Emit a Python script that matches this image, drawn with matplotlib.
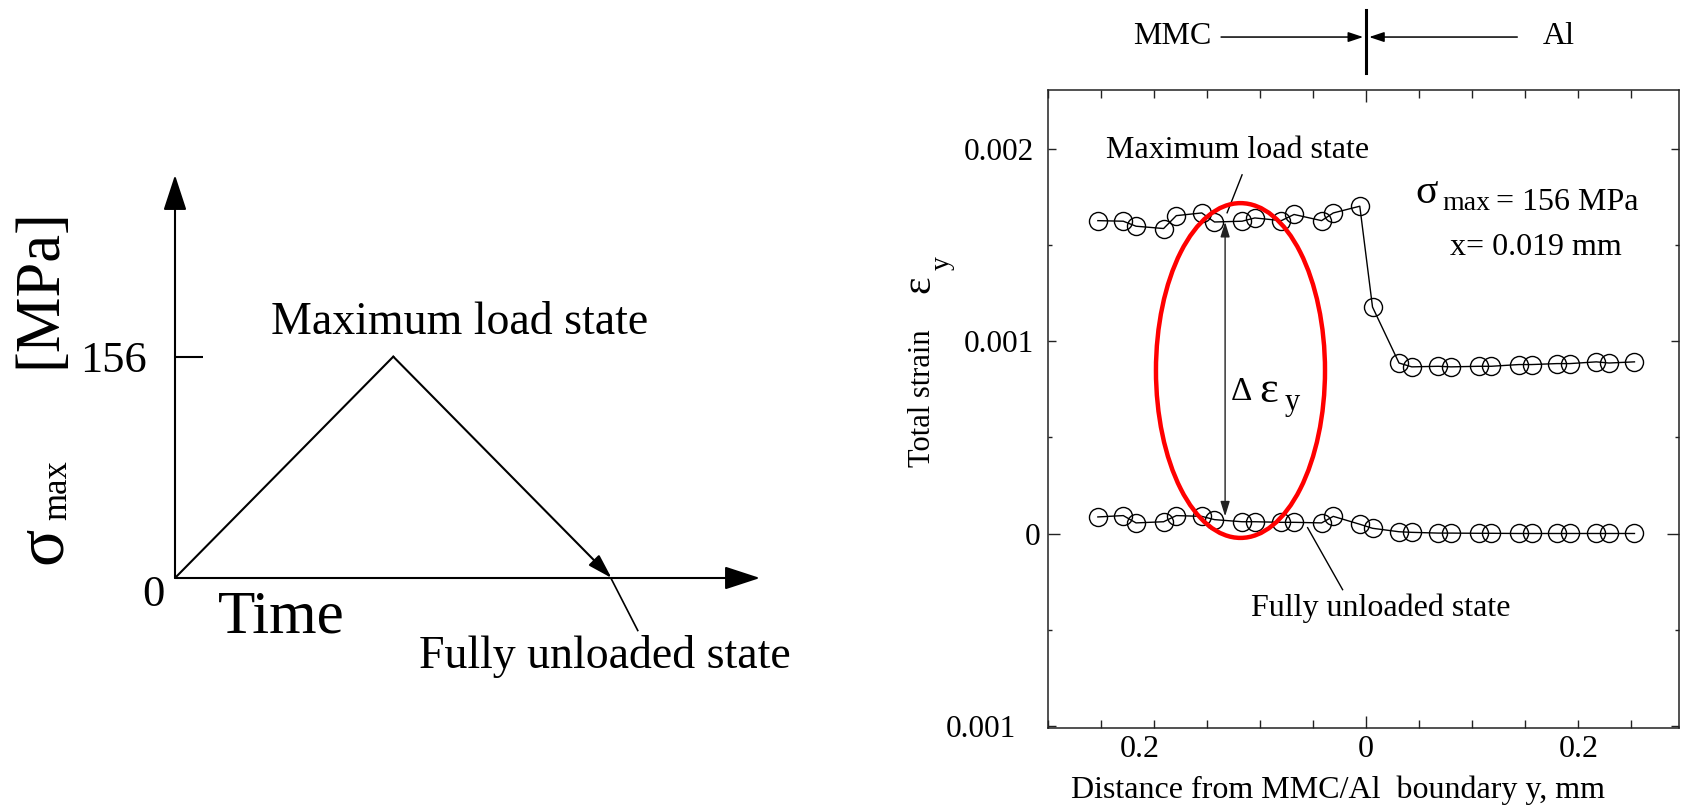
import numpy as np
import matplotlib.pyplot as plt
from matplotlib.patches import Ellipse
from matplotlib.ticker import FixedLocator, FuncFormatter
from matplotlib.transforms import ScaledTranslation, blended_transform_factory

plt.rcParams['font.family'] = ['Liberation Serif', 'DejaVu Serif']

#+++++++++++++++ 1. Data
# strain profile across the MMC/Al boundary, x = 0.019 mm
y_pos = np.array([-0.253, -0.229, -0.217, -0.191, -0.179, -0.155, -0.143,
                  -0.117, -0.105, -0.080, -0.068, -0.042, -0.031, -0.006,
                  0.006, 0.031, 0.043, 0.068, 0.080, 0.106, 0.118,
                  0.144, 0.156, 0.180, 0.192, 0.217, 0.229, 0.253])
strain_max = np.array([1.627, 1.624, 1.598, 1.586, 1.653, 1.667, 1.620,
                       1.624, 1.641, 1.627, 1.659, 1.627, 1.667, 1.702,
                       1.178, 0.887, 0.867, 0.870, 0.867, 0.870, 0.870,
                       0.879, 0.879, 0.884, 0.884, 0.893, 0.887, 0.893]) * 1e-3
strain_unload = np.array([0.087, 0.094, 0.056, 0.062, 0.094, 0.090, 0.073,
                          0.062, 0.062, 0.059, 0.059, 0.056, 0.090, 0.049,
                          0.028, 0.010, 0.007, 0.003, 0.003, 0.002, 0.002,
                          0.001, 0.001, 0.001, 0.001, 0.001, 0.001, 0.001]) * 1e-3

# loading history sketch (time in arbitrary units, stress in MPa)
t_hist = [0, 1, 2]
s_hist = [0, 156, 0]
t_end = 2.68
s_top = 284

x_ticklabels = {-0.2: '0.2', 0.0: '0', 0.2: '0.2'}
y_ticks = [-0.001, 0.0, 0.001, 0.002]
y_ticklabels = ['0.001', '0', '0.001', '0.002']

#+++++++++++++++ 2. Figure
W, H = 1684, 807
fig = plt.figure(figsize=(W / 100, H / 100), dpi=100)

def px(x, y):
    return x / W, 1 - y / H

arrow_kw = dict(color='k', lw=1.5, shrinkA=0, shrinkB=0)

#+++++++++++++++ 3. Left panel: loading history
axL = fig.add_axes([175 / W, 1 - 578 / H, 585 / W, 403 / H])
axL.patch.set_alpha(0)
axL.set_xlim(0, t_end)
axL.set_ylim(0, s_top)
for sp in axL.spines.values():
    sp.set_visible(False)
axL.set_xticks([])
axL.set_yticks([156])
axL.set_yticklabels(['156'])
axL.tick_params(axis='y', direction='in', length=20, width=1.5, labelsize=32, pad=20)

axL.annotate('', xy=(t_end, 0), xytext=(0, 0), annotation_clip=False,
             arrowprops=dict(arrowstyle='-|>,head_length=1.1,head_width=0.36',
                             mutation_scale=20, **arrow_kw))
axL.annotate('', xy=(0, s_top), xytext=(0, 0), annotation_clip=False,
             arrowprops=dict(arrowstyle='-|>,head_length=1.1,head_width=0.36',
                             mutation_scale=20, **arrow_kw))
axL.plot(t_hist[:2], s_hist[:2], color='k', lw=1.5)
axL.annotate('', xy=(t_hist[2], s_hist[2]), xytext=(t_hist[1], s_hist[1]),
             arrowprops=dict(arrowstyle='-|>,head_length=1.0,head_width=0.3',
                             mutation_scale=15, **arrow_kw))

axL.text(1.304, 180, 'Maximum load state', fontsize=33, ha='center', va='center')
axL.text(1.968, -55, 'Fully unloaded state', fontsize=33, ha='center', va='center',
         clip_on=False)
axL.plot([2.0, 2.12], [-1, -37], color='k', lw=1.2, clip_on=False)
axL.text(0.485, -28, 'Time', fontsize=44, ha='center', va='center', clip_on=False)
axL.text(-0.1, -12, '0', fontsize=32, ha='center', va='center', clip_on=False)
axL.text(-0.618, 204, '[MPa]', fontsize=45, rotation=90, ha='center', va='center',
         clip_on=False)
axL.text(-0.6, 23, 'σ', fontsize=50, rotation=90, ha='center', va='center',
         clip_on=False)
axL.text(-0.535, 62, 'max', fontsize=25, rotation=90, ha='center', va='center',
         clip_on=False)

#+++++++++++++++ 4. Right panel: strain profile
ax = fig.add_axes([1048 / W, 1 - 728 / H, 631 / W, 638 / H])
line_kw = dict(color='k', lw=1.0, marker='o', ms=13, mfc='none', mec='k', mew=1.0)
ax.plot(y_pos, strain_max, **line_kw)
ax.plot(y_pos, strain_unload, **line_kw)
ax.set_xlim(-0.3, 0.295)
ax.set_ylim(-0.00101, 0.002306)

ax.xaxis.set_major_locator(FixedLocator(np.round(np.arange(-0.3, 0.301, 0.05), 2)))
ax.xaxis.set_major_formatter(FuncFormatter(lambda v, p: x_ticklabels.get(round(v, 2), '')))
ax.set_yticks(y_ticks)
ax.set_yticklabels(y_ticklabels)
ax.yaxis.set_minor_locator(FixedLocator([-0.0005, 0.0005, 0.0015]))
ax.tick_params(which='both', direction='in', top=True, right=True, width=1.0,
               color='#222222')
ax.tick_params(which='major', length=5.8)
ax.tick_params(which='minor', length=3)
ax.tick_params(axis='x', pad=5, labelsize=23)
ax.tick_params(axis='y', pad=10, labelsize=22.5)
for sp in ax.spines.values():
    sp.set_linewidth(1.1)
    sp.set_color('#222222')

# longer ticks at zero, shifted labels like the original
xt = ax.xaxis.get_major_ticks()
xt[6].tick1line.set_markersize(8.6)
xt[6].tick2line.set_markersize(8.6)
yt = ax.yaxis.get_major_ticks()
yt[1].tick1line.set_markersize(8.6)
yt[1].tick2line.set_markersize(8.6)
xt[2].label1.set_transform(xt[2].label1.get_transform()
                           + ScaledTranslation(-0.14, 0, fig.dpi_scale_trans))
yt[0].label1.set_transform(yt[0].label1.get_transform()
                           + ScaledTranslation(-0.18, 0, fig.dpi_scale_trans))
yt[1].label1.set_transform(yt[1].label1.get_transform()
                           + ScaledTranslation(0.06, 0, fig.dpi_scale_trans))

# red ellipse and strain difference arrow
ax.add_patch(Ellipse((-0.1185, 0.000848), 0.1594, 0.00174, fill=False,
                     ec='red', lw=3.2, zorder=5))
ax.annotate('', xy=(-0.133, 0.00162), xytext=(-0.133, 0.00009),
            arrowprops=dict(arrowstyle='<|-|>,head_length=0.9,head_width=0.28',
                            mutation_scale=10, color='#222222', lw=1.0,
                            shrinkA=0, shrinkB=0))
ax.text(-0.1275, 0.000696, 'Δ', fontsize=24, va='baseline')
ax.text(-0.101, 0.000686, 'ε', fontsize=32, va='baseline')
ax.text(-0.0764, 0.000644, 'y', fontsize=22, va='baseline')

ax.text(-0.1208, 0.00199, 'Maximum load state', fontsize=23, ha='center', va='center')
ax.plot([-0.117, -0.1311], [0.001865, 0.001668], color='k', lw=1.0)
ax.text(0.0142, -0.00039, 'Fully unloaded state', fontsize=23, ha='center', va='center')
ax.plot([-0.0552, -0.0222], [0.0000312, -0.000291], color='k', lw=1.0)

ax.text(0.0461, 0.00172, 'σ', fontsize=30, va='baseline')
ax.text(0.0716, 0.001683, 'max', fontsize=20, va='baseline')
ax.text(0.1226, 0.001683, '= 156 MPa', fontsize=23, va='baseline')
ax.text(0.0791, 0.001449, 'x= 0.019 mm', fontsize=23, va='baseline')

# MMC | Al marker above the axes
trans = blended_transform_factory(ax.transData, ax.transAxes)
ax.plot([0, 0], [1.027, 1.125], transform=trans, color='k', lw=2.2, clip_on=False)
top_arrow = dict(arrowstyle='-|>,head_length=0.9,head_width=0.3', mutation_scale=10,
                 color='k', lw=1.1, shrinkA=0, shrinkB=0)
ax.annotate('', xy=(-0.0028, 1.083), xytext=(-0.1368, 1.083), xycoords=trans,
            textcoords=trans, arrowprops=top_arrow, annotation_clip=False)
ax.annotate('', xy=(0.0028, 1.083), xytext=(0.1425, 1.083), xycoords=trans,
            textcoords=trans, arrowprops=top_arrow, annotation_clip=False)
fig.text(*px(1172, 37), 'MMC', fontsize=23, ha='center', va='center')
fig.text(*px(1559, 37), 'Al', fontsize=23, ha='center', va='center')

# axis titles
fig.text(*px(1338, 790), 'Distance from MMC/Al  boundary y, mm', fontsize=23,
         ha='center', va='center')
fig.text(*px(922, 398), 'Total strain', fontsize=22, rotation=90, ha='center', va='center')
fig.text(*px(919, 284), 'ε', fontsize=30, rotation=90, ha='center', va='center')
fig.text(*px(942, 263), 'y', fontsize=20, rotation=90, ha='center', va='center')

fig.savefig('out.png', dpi=100)
